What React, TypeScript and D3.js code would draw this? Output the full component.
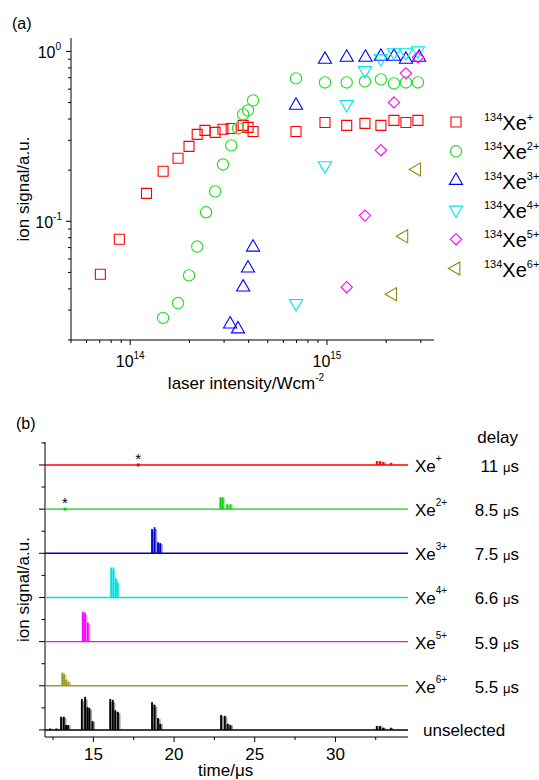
import React from 'react';
import * as d3 from 'd3';

// (a) ion yield vs laser intensity, W/cm^2
const xe1Intensity = [7.05e13, 8.8e13, 1.21e14, 1.47e14, 1.75e14, 1.99e14, 2.19e14, 2.4e14, 2.7e14, 2.96e14, 3.26e14, 3.75e14, 3.97e14, 4.21e14, 6.96e14, 9.77e14, 1.26e15, 1.56e15, 1.88e15, 2.19e15, 2.52e15, 2.9e15];
const xe1Signal = [0.0488, 0.0784, 0.146, 0.197, 0.235, 0.276, 0.325, 0.343, 0.334, 0.348, 0.352, 0.367, 0.357, 0.338, 0.338, 0.382, 0.367, 0.377, 0.367, 0.393, 0.382, 0.393];
const xe2Intensity = [1.47e14, 1.75e14, 1.99e14, 2.19e14, 2.43e14, 2.7e14, 2.96e14, 3.26e14, 3.53e14, 3.75e14, 3.97e14, 4.21e14, 6.96e14, 9.77e14, 1.26e15, 1.56e15, 1.88e15, 2.19e15, 2.52e15, 2.9e15];
const xe2Signal = [0.027, 0.033, 0.048, 0.071, 0.113, 0.15, 0.216, 0.28, 0.352, 0.426, 0.45, 0.515, 0.694, 0.657, 0.657, 0.666, 0.685, 0.648, 0.657, 0.657];
const xe3Intensity = [3.22e14, 3.53e14, 3.75e14, 3.97e14, 4.21e14, 6.96e14, 9.77e14, 1.26e15, 1.57e15, 1.88e15, 2.19e15, 2.52e15, 2.94e15];
const xe3Signal = [0.0248, 0.0232, 0.0409, 0.0529, 0.0703, 0.481, 0.897, 0.922, 0.922, 0.934, 0.934, 0.897, 0.922];
const xe4Intensity = [6.96e14, 9.77e14, 1.26e15, 1.56e15, 1.88e15, 2.19e15, 2.52e15, 2.9e15];
const xe4Signal = [0.0329, 0.213, 0.488, 0.773, 0.91, 0.986, 0.986, 1.01];
const xe5Intensity = [1.26e15, 1.56e15, 1.88e15, 2.19e15, 2.52e15, 2.9e15];
const xe5Signal = [0.0409, 0.108, 0.262, 0.501, 0.743, 0.922];
const xe6Intensity = [2.16e15, 2.46e15, 2.86e15];
const xe6Signal = [0.0372, 0.0816, 0.202];

// (b) time-of-flight spectra: [time us, peak height] per trace
const xe1Peaks = [[32.56, 0.09], [32.76, 0.09], [32.97, 0.07], [33.43, 0.05]];
const xe2Peaks = [[22.87, 0.27], [23.01, 0.27], [23.29, 0.11], [23.49, 0.11]];
const xe3Peaks = [[18.63, 0.55], [18.79, 0.59], [19.0, 0.25], [19.14, 0.23]];
const xe4Peaks = [[16.1, 0.68], [16.24, 0.68], [16.39, 0.43], [16.49, 0.34]];
const xe5Peaks = [[14.34, 0.68], [14.48, 0.66], [14.65, 0.43]];
const xe6Peaks = [[13.07, 0.3], [13.18, 0.27], [13.3, 0.14], [13.45, 0.09]];
const unselectedPeaks = [
  [12.3, 0.03], [12.7, 0.03],
  [12.99, 0.3], [13.16, 0.3], [13.3, 0.11], [13.43, 0.11],
  [14.28, 0.7], [14.48, 0.75], [14.63, 0.52], [14.75, 0.5], [14.94, 0.2],
  [16.04, 0.7], [16.2, 0.68], [16.35, 0.45], [16.52, 0.41],
  [18.63, 0.63], [18.79, 0.57], [19.0, 0.27], [19.14, 0.14],
  [22.91, 0.34], [23.14, 0.32], [23.32, 0.14], [23.49, 0.11],
  [32.56, 0.09], [32.76, 0.09], [32.97, 0.05], [33.43, 0.05],
];
const delays = ['11', '8.5', '7.5', '6.6', '5.9', '5.5'];
const charges = ['+', '2+', '3+', '4+', '5+', '6+'];
const starTimes = [17.78, 13.24];

const FONT = 'Liberation Sans, Arial, sans-serif';
const colors = ['#ff0000', '#22dd22', '#0000ff', '#00e8e8', '#ff00ff', '#8c8c14'];
const traceColors = ['#ff0000', '#11cc11', '#0000cc', '#00e0e0', '#ff00ff', '#9a9a28', '#000000'];

const seriesA = [
  { x: xe1Intensity, y: xe1Signal, type: d3.symbolSquare, size: 100, rot: 0 },
  { x: xe2Intensity, y: xe2Signal, type: d3.symbolCircle, size: 100, rot: 0 },
  { x: xe3Intensity, y: xe3Signal, type: d3.symbolTriangle, size: 75, rot: 0 },
  { x: xe4Intensity, y: xe4Signal, type: d3.symbolTriangle, size: 75, rot: 180 },
  { x: xe5Intensity, y: xe5Signal, type: d3.symbolSquare, size: 64, rot: 45 },
  { x: xe6Intensity, y: xe6Signal, type: d3.symbolTriangle, size: 75, rot: -90 },
];
const tracesB = [xe1Peaks, xe2Peaks, xe3Peaks, xe4Peaks, xe5Peaks, xe6Peaks, unselectedPeaks];

export default function App() {
  // panel (a)
  const xA = d3.scaleLog().domain([5e13, 3.5e15]).range([71, 434]);
  const yA = d3.scaleLog().domain([0.02, 1.2]).range([340, 38]);
  const xMinor: number[] = [];
  [1e13, 1e14, 1e15].forEach(d => { for (let k = 2; k <= 9; k++) { const v = d * k; if (v >= 5e13 && v <= 3.5e15) xMinor.push(v); } });
  const yMinor: number[] = [];
  [0.01, 0.1].forEach(d => { for (let k = 2; k <= 9; k++) { const v = d * k; if (v >= 0.02 && v <= 1.2) yMinor.push(v); } });

  // panel (b)
  const xB = d3.scaleLinear().domain([12, 34.5]).range([45, 408]);
  const yB = d3.scaleLinear().domain([-0.16, 6.52]).range([737, 442]);
  const yTicksB = d3.range(0, 6.51, 0.5);
  const xTicksB = d3.range(12.5, 34.5, 2.5);

  return (
    <svg width={539} height={780} style={{ position: 'absolute', left: 0, top: 0, background: '#fff' }} fontFamily={FONT}>
      {/* ---------- (a) ---------- */}
      <text x={12} y={29} fontSize={16}>(a)</text>
      <line x1={71} x2={71} y1={38} y2={340} stroke="#000" strokeWidth={1} />
      <line x1={71} x2={434} y1={340} y2={340} stroke="#000" strokeWidth={1} />
      {[1, 0.1].map(v => (
        <line key={'ym' + v} x1={66} x2={71} y1={yA(v)} y2={yA(v)} stroke="#000" />
      ))}
      {yMinor.map(v => (
        <line key={'yn' + v} x1={68} x2={71} y1={yA(v)} y2={yA(v)} stroke="#000" />
      ))}
      {[1e14, 1e15].map(v => (
        <line key={'xm' + v} x1={xA(v)} x2={xA(v)} y1={340} y2={345} stroke="#000" />
      ))}
      {xMinor.map(v => (
        <line key={'xn' + v} x1={xA(v)} x2={xA(v)} y1={340} y2={343} stroke="#000" />
      ))}
      <text x={61} y={yA(1) + 7} textAnchor="end" fontSize={16}>10<tspan fontSize={10} dy={-8}>0</tspan></text>
      <text x={62} y={yA(0.1) + 7} textAnchor="end" fontSize={16}>10<tspan fontSize={10} dy={-8}>-1</tspan></text>
      <text x={xA(1e14)} y={367} textAnchor="middle" fontSize={16}>10<tspan fontSize={10} dy={-8}>14</tspan></text>
      <text x={xA(1e15)} y={367} textAnchor="middle" fontSize={16}>10<tspan fontSize={10} dy={-8}>15</tspan></text>
      <text x={246} y={389} textAnchor="middle" fontSize={17}>laser intensity/Wcm<tspan fontSize={10} dy={-8}>-2</tspan></text>
      <text transform={`translate(29,${(38 + 340) / 2}) rotate(-90)`} textAnchor="middle" fontSize={17}>ion signal/a.u.</text>

      {seriesA.map((s, i) => {
        const path = d3.symbol().type(s.type).size(s.size)() as string;
        return (
          <g key={'s' + i} fill="none" stroke={colors[i]} strokeWidth={1.1}>
            {s.x.map((xv, j) => (
              <path key={j} d={path} transform={`translate(${xA(xv)},${yA(s.y[j])}) rotate(${s.rot})`} />
            ))}
          </g>
        );
      })}

      {/* legend (a) */}
      {seriesA.map((s, i) => {
        const cy = 122 + i * 29.3;
        const path = d3.symbol().type(s.type).size(s.size)() as string;
        return (
          <g key={'l' + i}>
            <path d={path} transform={`translate(456,${cy}) rotate(${s.rot})`} fill="none" stroke={colors[i]} strokeWidth={1.1} />
            <text x={484} y={cy - 1} fontSize={11}>134<tspan fontSize={20} dy={9}>Xe</tspan><tspan fontSize={11} dy={-9}>{charges[i]}</tspan></text>
          </g>
        );
      })}

      {/* ---------- (b) ---------- */}
      <text x={16} y={429} fontSize={16}>(b)</text>
      <line x1={45} x2={45} y1={442} y2={737} stroke="#000" />
      <line x1={45} x2={408} y1={737} y2={737} stroke="#000" />
      {yTicksB.map(v => (
        <line key={'yb' + v} x1={Number.isInteger(v) ? 39 : 41.5} x2={45} y1={yB(v)} y2={yB(v)} stroke="#000" />
      ))}
      {xTicksB.map(v => (
        <line key={'xb' + v} x1={xB(v)} x2={xB(v)} y1={737} y2={v % 5 === 0 ? 742 : 740} stroke="#000" />
      ))}
      {[15, 20, 25, 30].map(v => (
        <text key={'xl' + v} x={xB(v)} y={760} textAnchor="middle" fontSize={17}>{v}</text>
      ))}
      <text x={xB(23.2)} y={776} textAnchor="middle" fontSize={17}>time/μs</text>
      <text transform={`translate(29,${(442 + 737) / 2}) rotate(-90)`} textAnchor="middle" fontSize={17}>ion signal/a.u.</text>

      {tracesB.map((peaks, i) => {
        const off = 6 - i;
        const c = traceColors[i];
        const y0 = yB(off);
        return (
          <g key={'t' + i}>
            <line x1={xB(12)} x2={xB(34.5)} y1={y0} y2={y0} stroke={c} strokeWidth={1.4} />
            {peaks.map(([t, h], j) => (
              <g key={j}>
                <rect x={xB(t - 0.06)} width={xB(t + 0.16) - xB(t - 0.06)} y={yB(off + h * 0.92)} height={y0 - yB(off + h * 0.92)} fill={c} opacity={0.4} />
                <rect x={xB(t - 0.05)} width={xB(t + 0.06) - xB(t - 0.05)} y={yB(off + h)} height={y0 - yB(off + h)} fill={c} />
              </g>
            ))}
          </g>
        );
      })}
      {starTimes.map((t, i) => (
        <g key={'st' + i}>
          <rect x={xB(t) - 1.5} y={yB(6 - i) - 1.5} width={3} height={3} fill={traceColors[i]} />
          <text x={xB(t)} y={yB(6 - i) - 1} textAnchor="middle" fontSize={15}>*</text>
        </g>
      ))}

      <text x={518} y={443} textAnchor="end" fontSize={17}>delay</text>
      {charges.map((c, i) => {
        const cy = yB(6 - i);
        return (
          <g key={'lb' + i}>
            <text x={415} y={cy + 7} fontSize={17}>Xe<tspan fontSize={10} dy={-10}>{c}</tspan></text>
            <text x={519} y={cy + 7} textAnchor="end" fontSize={17}>{delays[i]} <tspan fontSize={13}>μ</tspan>s</text>
          </g>
        );
      })}
      <text x={423} y={yB(0) + 6} fontSize={17}>unselected</text>
    </svg>
  );
}
